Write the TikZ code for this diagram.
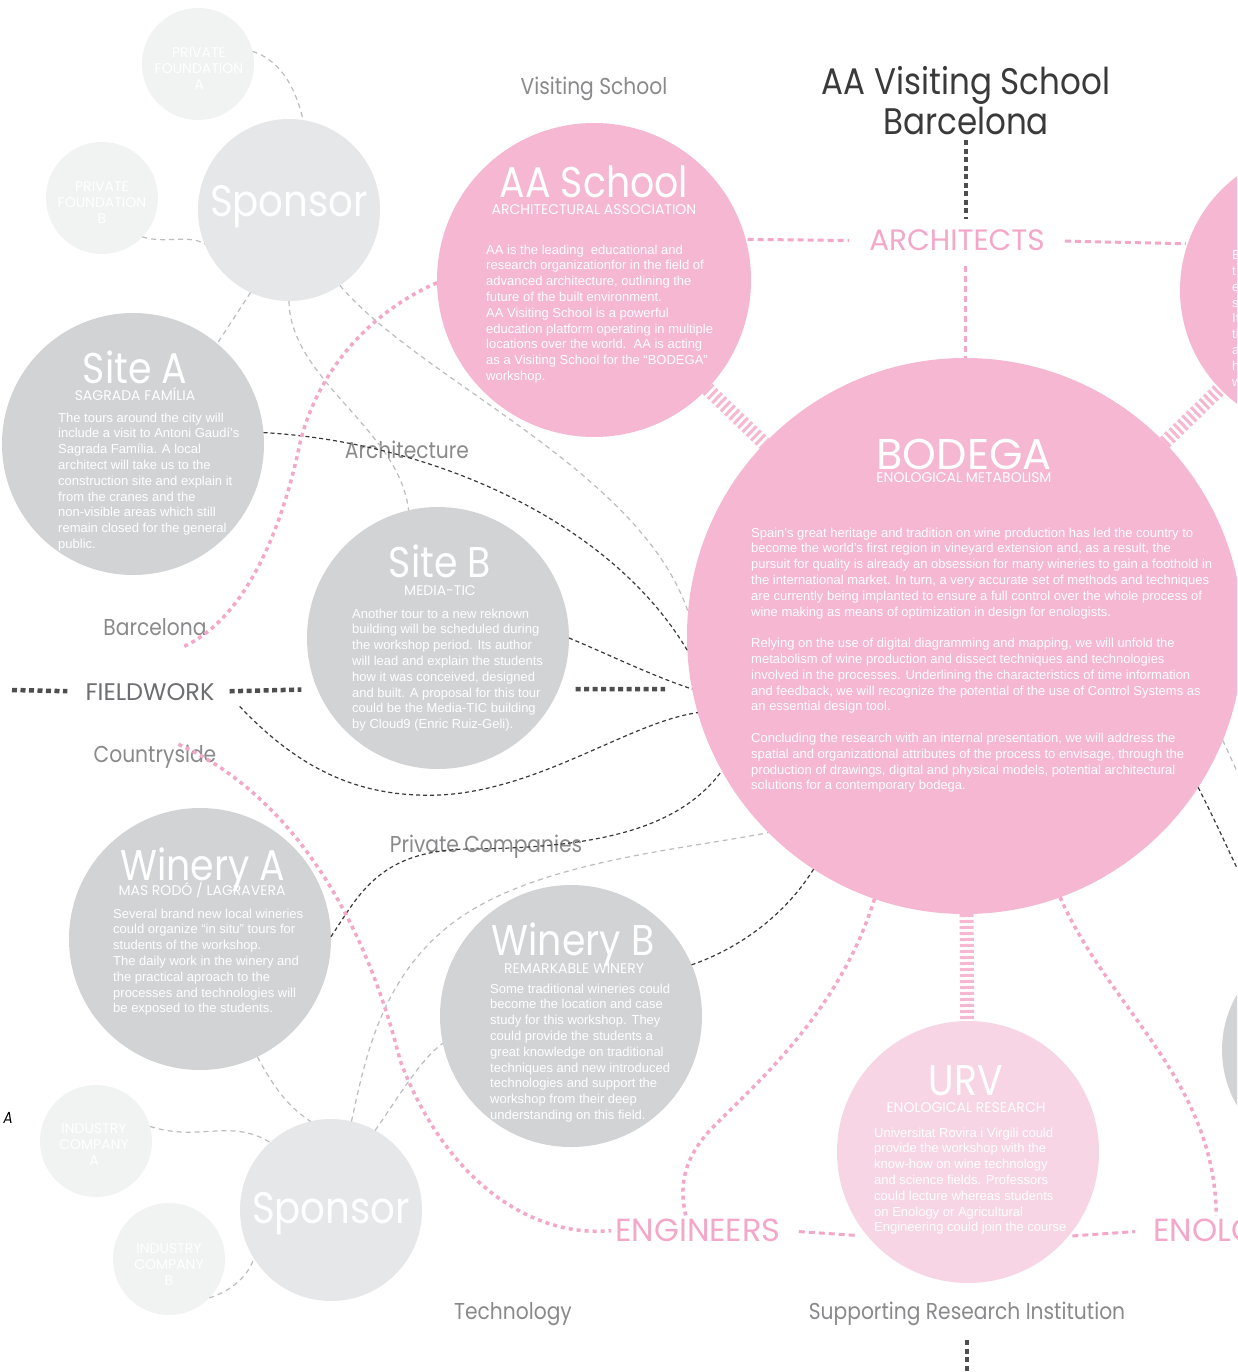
\documentclass[tikz,border=0pt]{standalone}
\usepackage{fontspec}
\setmainfont{Liberation Sans}
\newfontfamily\futura[FakeStretch=0.88]{Poppins}
\newfontfamily\futuracaps{Poppins}
\usetikzlibrary{positioning}

\definecolor{pinkfill}{HTML}{F5B7D2}
\definecolor{pinklight}{HTML}{F8D5E5}
\definecolor{pinkline}{HTML}{F4A8C9}
\definecolor{graydark}{HTML}{D1D3D4}
\definecolor{graymid}{HTML}{E6E7E8}
\definecolor{graylight}{HTML}{F1F2F2}
\definecolor{labelgray}{HTML}{8A8A8C}
\definecolor{fieldgray}{HTML}{6D6E71}
\definecolor{inkdark}{HTML}{3A3A3A}
\definecolor{dashgray}{HTML}{BCBDC0}

\tikzset{
  bubble/.style={circle,inner sep=0pt,outer sep=0pt,minimum size=#1},
  head/.style={font=\futura\fontsize{43}{43}\selectfont,text=white,inner sep=0pt,anchor=base},
  subhead/.style={font=\futuracaps\fontsize{14}{14}\selectfont,text=white,inner sep=0pt,anchor=base},
  minor/.style={font=\futuracaps\fontsize{14}{16}\selectfont,text=white,align=center,inner sep=0pt},
  blurb/.style={font=\fontsize{13}{15.8}\selectfont,text=white,align=left,anchor=north west,inner sep=0pt},
  tag/.style={font=\futura\fontsize{23}{26}\selectfont,text=labelgray,inner sep=0pt,anchor=base},
  role/.style={font=\futuracaps\fontsize{30}{32}\selectfont,text=pinkline,inner sep=0pt,anchor=base},
  link/.style={draw=inkdark,line width=1.2pt,dash pattern=on 4pt off 3pt},
  faint/.style={draw=dashgray,line width=1.2pt,dash pattern=on 5pt off 4pt},
  pinkdot/.style={draw=pinkline,line width=3.5pt,dash pattern=on 4pt off 4pt},
  pinkdash/.style={draw=pinkline,line width=3pt,dash pattern=on 6pt off 4pt},
  rungs/.style={draw=pinkfill,line width=14pt,dash pattern=on 3pt off 3pt},
  blackdots/.style={draw=inkdark!90,line width=4.5pt,dash pattern=on 5pt off 3.5pt}
}

\begin{document}
\begin{tikzpicture}[x=1pt,y=-1pt,line cap=butt]
\useasboundingbox (0,0) rectangle (1237,1372);
\clip (0,0) rectangle (1237,1372);
\fill[white] (0,0) rectangle (1237,1372);

% bubbles
\node[bubble=112, fill=graylight] (pfa) at (198,64) {};
\node[bubble=112, fill=graylight] (pfb) at (102,198) {};
\node[bubble=182, fill=graymid] (spt) at (289,210) {};
\node[bubble=262, fill=graydark] (sitea) at (133,444) {};
\node[bubble=262, fill=graydark] (siteb) at (438,638) {};
\node[bubble=314, fill=pinkfill] (aa) at (594,280) {};
\node[bubble=556, fill=pinkfill] (bodega) at (965,636) {};
\node[bubble=284, fill=pinkfill] (rtop) at (1322,290) {};
\node[bubble=220, fill=graydark] (rmid) at (1332,1050) {};
\node[bubble=262, fill=graydark] (winea) at (200,939) {};
\node[bubble=262, fill=graydark] (wineb) at (571,1016) {};
\node[bubble=262, fill=pinklight] (urv) at (968,1152) {};
\node[bubble=112, fill=graylight] (ica) at (96,1141) {};
\node[bubble=112, fill=graylight] (icb) at (169,1259) {};
\node[bubble=182, fill=graymid] (spb) at (331,1210) {};

\coordinate (fl) at (12,690);
\coordinate (offr) at (1250,895);
\coordinate (offr2) at (1250,800);
\coordinate (offb) at (968,1390);

% titles inside the bubbles
\node[minor] (pfatxt) at (199,69) {PRIVATE\\FOUNDATION\\A};
\node[minor] (pfbtxt) at (102,203) {PRIVATE\\FOUNDATION\\B};
\node[minor] (icatxt) at (94,1145) {INDUSTRY\\COMPANY\\A};
\node[minor] (icbtxt) at (169,1265) {INDUSTRY\\COMPANY\\B};
\node[head, font=\futura\fontsize{44}{44}\selectfont] (spttxt) at (289,217) {Sponsor};
\node[head, font=\futura\fontsize{44}{44}\selectfont] (spbtxt) at (331,1223) {Sponsor};

\node[head] (aahd) at (594,198) {AA School};
\node[subhead] (aasub) at (594,215) {ARCHITECTURAL ASSOCIATION};
\node[head, font=\futuracaps\fontsize{43}{43}\selectfont] (bodhd) at (964,469) {BODEGA};
\node[subhead] (bodsub) at (964,482) {ENOLOGICAL METABOLISM};
\node[head] (sitahd) at (135,383) {Site A};
\node[subhead] (sitasub) at (135,400) {SAGRADA FAMÍLIA};
\node[head] (sitbhd) at (440,577) {Site B};
\node[subhead] (sitbsub) at (440,595) {MEDIA-TIC};
\node[head] (wnahd) at (203,880) {Winery A};
\node[subhead] (wnasub) at (202,895) {MAS RODÓ / LAGRAVERA};
\node[head] (wnbhd) at (573,955) {Winery B};
\node[subhead] (wnbsub) at (574,973) {REMARKABLE WINERY};
\node[head] (urvhd) at (966,1095) {URV};
\node[subhead] (urvsub) at (966,1112) {ENOLOGICAL RESEARCH};

% body texts
\node[blurb] (sitatxt) at (58,412.5) {The tours around the city will\\
include a visit to Antoni Gaudí’s\\
Sagrada Família. A local\\
architect will take us to the\\
construction site and explain it\\
from the cranes and the\\
non-visible areas which still\\
remain closed for the general\\
public.};
\node[blurb] (sitbtxt) at (352,608.5) {Another tour to a new reknown\\
building will be scheduled during\\
the workshop period. Its author\\
will lead and explain the students\\
how it was conceived, designed\\
and built. A proposal for this tour\\
could be the Media-TIC building\\
by Cloud9 (Enric Ruiz-Geli).};
\node[blurb] (aatxt) at (486,244.5) {AA is the leading\ \ educational and\\
research organizationfor in the field of\\
advanced architecture, outlining the\\
future of the built environment.\\
AA Visiting School is a powerful\\
education platform operating in multiple\\
locations over the world.\ \ AA is acting\\
as a Visiting School for the “BODEGA”\\
workshop.};
\node[blurb] (bodtxt) at (751,527.5) {Spain’s great heritage and tradition on wine production has led the country to\\
become the world’s first region in vineyard extension and, as a result, the\\
pursuit for quality is already an obsession for many wineries to gain a foothold in\\
the international market. In turn, a very accurate set of methods and techniques\\
are currently being implanted to ensure a full control over the whole process of\\
wine making as means of optimization in design for enologists.\\[15.8pt]
Relying on the use of digital diagramming and mapping, we will unfold the\\
metabolism of wine production and dissect techniques and technologies\\
involved in the processes. Underlining the characteristics of time information\\
and feedback, we will recognize the potential of the use of Control Systems as\\
an essential design tool.\\[15.8pt]
Concluding the research with an internal presentation, we will address the\\
spatial and organizational attributes of the process to envisage, through the\\
production of drawings, digital and physical models, potential architectural\\
solutions for a contemporary bodega.};
\node[blurb] (rtoptxt) at (1232,250.5) {E\\t\\e\\s\\It\\ti\\a\\h\\w};
\node[blurb] (wnatxt) at (113,908.5) {Several brand new local wineries\\
could organize “in situ” tours for\\
students of the workshop.\\
The daily work in the winery and\\
the practical aproach to the\\
processes and technologies will\\
be exposed to the students.};
\node[blurb] (wnbtxt) at (490,983.5) {Some traditional wineries could\\
become the location and case\\
study for this workshop. They\\
could provide the students a\\
great knowledge on traditional\\
techniques and new introduced\\
technologies and support the\\
workshop from their deep\\
understanding on this field.};
\node[blurb] (urvtxt) at (874,1127.5) {Universitat Rovira i Virgili could\\
provide the workshop with the\\
know-how on wine technology\\
and science fields. Professors\\
could lecture whereas students\\
on Enology or Agricultural\\
Engineering could join the course};

% free labels
\node[align=center, font=\futura\fontsize{37}{40}\selectfont, text=inkdark, inner sep=0pt] (title) at (966,101) {AA Visiting School\\Barcelona};
\node[tag] (visit) at (594,95) {Visiting School};
\node[role, font=\futuracaps\fontsize{29.5}{32}\selectfont] (archi) at (957,251) {ARCHITECTS};
\node[tag] (archt) at (407,458) {Architecture};
\node[tag] (bcn) at (155,635) {Barcelona};
\node[tag, text=fieldgray, font=\futuracaps\fontsize{24}{26}\selectfont] (field) at (150,700) {FIELDWORK};
\node[tag] (country) at (155,762) {Countryside};
\node[tag] (privco) at (486,852) {Private Companies};
\node[tag] (techno) at (513,1319) {Technology};
\node[tag] (supp) at (967,1319) {Supporting Research Institution};
\node[role, font=\futuracaps\fontsize{32}{32}\selectfont] (engin) at (698,1241.5) {ENGINEERS};
\node[role, font=\futuracaps\fontsize{32}{32}\selectfont, anchor=base west] (enol) at (1153,1241.5) {ENOLO};
\node[font=\futura\fontsize{16}{16}\selectfont\itshape, text=black, inner sep=0pt] (mark) at (8,1118) {A};

% light connectors
\draw[faint] (pfa.13) .. controls (285,62) and (297,95) .. (spt.81);
\draw[faint] (pfb.-44) .. controls (165,244) and (190,234) .. (spt.202);
\draw[faint] (spt.-115) -- (sitea.50);
\draw[faint] (spt.-90) .. controls (290,380) and (400,430) .. (siteb.103);
\draw[faint] (spt.-56) .. controls (420,380) and (640,470) .. (bodega.175);
\draw[faint] (ica.15) .. controls (200,1142) and (230,1118) .. (spb.132);
\draw[faint] (icb.-44) .. controls (235,1290) and (250,1272) .. (spb.212);
\draw[faint] (winea.-64) .. controls (275,1090) and (290,1108) .. (spb.103);
\draw[faint] (spb.77) .. controls (365,1060) and (380,980) .. (450,925) .. controls (530,862) and (680,850) .. (bodega.225);
\draw[faint] (spb.61) .. controls (400,1095) and (420,1060) .. (wineb.192);
\draw[faint] (bodega.-22) -- (offr2);

% dark connectors
\draw[link] (sitea.5) .. controls (430,442) and (610,520) .. (bodega.183);
\draw[link] (siteb.0) .. controls (610,655) and (650,675) .. (bodega.191);
\draw[link] ([xshift=25pt,yshift=-6pt]field.south east) .. controls (300,770) and (360,798) .. (440,795) .. controls (540,790) and (630,722) .. (bodega.196);
\draw[link] (winea.1) .. controls (360,893) and (380,850) .. (470,849) .. controls (600,848) and (680,828) .. (bodega.209);
\draw[link] (wineb.23) .. controls (740,948) and (785,915) .. (bodega.237);
\draw[link] (bodega.-33) .. controls (1215,820) and (1228,850) .. (offr);

% pink routes
\draw[pinkdot] (aa.181) .. controls (370,312) and (318,370) .. (300,443) .. controls (282,530) and (245,620) .. ([xshift=-25pt,yshift=-12pt]bcn.south east);
\draw[pinkdot, shorten >=4pt] ([xshift=-38pt]country.north east) .. controls (280,790) and (360,900) .. (400,1060) .. controls (445,1180) and (530,1238) .. (engin.west);
\draw[pinkdot, shorten >=3pt] (bodega.251) .. controls (840,1010) and (760,1080) .. (715,1125) .. controls (680,1160) and (680,1190) .. (engin.135);
\draw[pinkdot, shorten >=3pt] (bodega.-70) .. controls (1110,1010) and (1215,1080) .. (enol.45);
\draw[pinkdash, shorten <=2pt, shorten >=20pt] (aa.15) -- (archi.west);
\draw[pinkdash, shorten <=20pt, shorten >=2pt] (archi.east) -- (rtop.161);
\draw[pinkdash, shorten <=15pt] (bodega.north |- archi.south) -- (bodega.north);
\draw[pinkdash, shorten <=18pt, shorten >=12pt] (engin.east) -- (urv.220);
\draw[pinkdash, shorten <=4pt, shorten >=18pt] (urv.-40) -- (enol.west);
\draw[rungs] (aa) -- (bodega);
\draw[rungs] (bodega) -- (rtop);
\draw[rungs] (bodega) -- (urv);

% black dotted
\draw[blackdots, shorten <=5pt, shorten >=11pt] (title.south) -- (title.south |- archi.north);
\draw[blackdots, shorten >=18pt] (fl) -- (field.west);
\draw[blackdots, shorten <=15pt, shorten >=16pt] (field.east) -- (siteb.-157);
\draw[blackdots, shorten <=17pt, shorten >=27pt] (siteb.-23) -- (bodega.191);
\draw[blackdots, shorten <=15pt] (supp.south) -- (supp.south |- offb);
\end{tikzpicture}
\end{document}
